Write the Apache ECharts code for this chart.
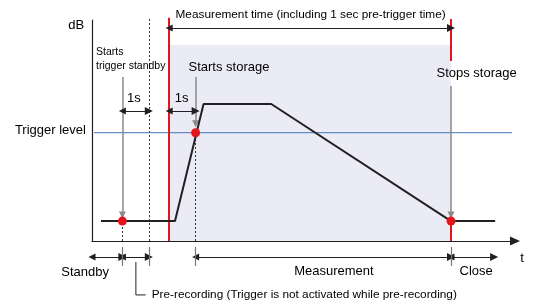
<!DOCTYPE html>
<html lang="en">
<head>
<meta charset="UTF-8">
<title>Measurement timing</title>
<style>
  html, body { margin: 0; padding: 0; background: #fff; }
</style>
</head>
<body>
<div id="main" style="width:535px;height:307px;"></div>
<script src="https://cdn.jsdelivr.net/npm/echarts@6/dist/echarts.min.js"></script>
<script>
// time axis (s) and level axis (dB, arbitrary units)
var xRange = [0, 16];
var yRange = [0, 10];

// sound level curve
var signal = [[0.34, 0.9], [3.14, 0.9], [4.22, 6.2], [6.78, 6.2], [13.58, 0.9], [15.25, 0.9]];
var triggerLevel = [[0.08, 4.9], [15.89, 4.9]];
// events: trigger standby, trigger, stop
var eventPoints = [[1.15, 0.9], [3.92, 4.9], [13.58, 0.9]];
// measurement window (shaded)
var measureArea = [2.92, 13.58, 8.87];

// red markers: start of measurement, stop storage (top part and foot)
var redLines = [
  [[2.92, 0], [2.92, 10.1]],
  [[13.58, 8.14], [13.58, 10.05]],
  [[13.58, 0], [13.58, 0.9]]
];
// grey pointer arrows
var pointers = [
  [[1.15, 7.42], [1.15, 1.18]],
  [[3.92, 7.42], [3.92, 5.3]],
  [[13.58, 7.01], [13.58, 1.18]]
];
// dotted guide lines
var guides = [
  [[1.15, 0], [1.15, 0.9]],
  [[2.15, 0], [2.15, 10.1]],
  [[3.92, 0], [3.92, 4.9]]
];
// double-headed dimension arrows
var spans = [
  [[1.15, 5.88], [2.15, 5.88]],
  [[2.92, 5.88], [3.92, 5.88]],
  [[2.92, 9.64], [13.58, 9.64]],
  [[0, -0.72], [1.15, -0.72]],
  [[1.15, -0.72], [2.15, -0.72]],
  [[3.92, -0.72], [13.58, -0.72]],
  [[13.58, -0.72], [15.21, -0.72]]
];
// ticks below the axis
var ticks = [
  [[1.15, -0.27], [1.15, -1.13]],
  [[2.15, -0.27], [2.15, -1.13]],
  [[3.92, -0.27], [3.92, -1.13]],
  [[13.58, -0.27], [13.58, -1.13]]
];
var bracket = [[[1.66, -0.95], [1.66, -2.44], [2.03, -2.44]]];

// text labels [x, y, text]
var leftText = [
  [3.65, 7.87, 'Starts storage'],
  [13.03, 7.6, 'Stops storage'],
  [16.2, -0.77, 't']
];
var rightText = [
  [-0.3, 9.77, 'dB'],
  [-0.23, 5.02, 'Trigger level']
];
var centerText = [
  [1.58, 6.43, '1s'],
  [3.39, 6.43, '1s'],
  [-0.26, -1.4, 'Standby'],
  [9.15, -1.36, 'Measurement'],
  [14.53, -1.36, 'Close']
];
var smallText = [[0.15, 8.24, 'Starts\ntrigger standby']];
var noteText = [
  [3.16, 10.23, 'Measurement time (including 1 sec pre-trigger time)'],
  [2.26, -2.44, 'Pre-recording (Trigger is not activated while pre-recording)']
];

var ink = '#231f20';
var red = '#e3141c';
var font = 'Liberation Sans, Arial, sans-serif';

function segs(list) {
  return list.map(function (c) { return { coords: c }; });
}
function textSeries(list, align, size) {
  return {
    type: 'scatter',
    clip: false,
    silent: true,
    symbolSize: 0,
    z: 10,
    itemStyle: { opacity: 1 },
    data: list.map(function (t) { return { value: [t[0], t[1]], name: t[2] }; }),
    label: {
      show: true,
      position: 'inside',
      align: align,
      verticalAlign: 'middle',
      color: '#000',
      opacity: 1,
      fontFamily: font,
      fontSize: size,
      lineHeight: size + 3,
      formatter: function (p) { return p.name; }
    }
  };
}
function segSeries(list, color, width, extra) {
  var s = {
    type: 'lines', coordinateSystem: 'cartesian2d', clip: false, silent: true,
    data: segs(list), symbol: 'none',
    lineStyle: { color: color, width: width, opacity: 1 }, z: 4
  };
  for (var k in extra) s[k] = extra[k];
  return s;
}

var option = {
  animation: false,
  grid: { left: 92, top: 20, width: 423, height: 221 },
  xAxis: {
    type: 'value', min: xRange[0], max: xRange[1],
    splitLine: { show: false }, axisTick: { show: false }, axisLabel: { show: false },
    axisLine: { onZero: false, symbol: ['none', 'triangle'], symbolSize: [9, 10],
      lineStyle: { color: ink, width: 1.2 } }
  },
  yAxis: {
    type: 'value', min: yRange[0], max: yRange[1],
    splitLine: { show: false }, axisTick: { show: false }, axisLabel: { show: false },
    axisLine: { onZero: false, lineStyle: { color: ink, width: 1.2 } }
  },
  series: [
    {
      type: 'line', data: [], silent: true,
      markArea: {
        silent: true,
        itemStyle: { color: '#ebebf6', opacity: 1 },
        data: [[{ coord: [measureArea[0], 0] }, { coord: [measureArea[1], measureArea[2]] }]]
      }
    },
    {
      type: 'line', data: triggerLevel, symbol: 'none', silent: true,
      lineStyle: { color: '#3f74b9', width: 1 }, z: 3
    },
    segSeries(guides, '#333', 1, { lineStyle: { color: '#333', width: 1, type: [2, 2], opacity: 1 }, z: 3 }),
    segSeries(redLines, red, 2),
    segSeries(pointers, '#8a8a8a', 1.5, { symbol: ['none', 'triangle'], symbolSize: [8, 7] }),
    segSeries(spans, ink, 1, { symbol: ['triangle', 'triangle'], symbolSize: [7, 8] }),
    segSeries(ticks, '#777', 1.2),
    segSeries(bracket, ink, 1, { polyline: true }),
    {
      type: 'line', data: signal, symbol: 'none', silent: true,
      lineStyle: { color: ink, width: 2 }, z: 5
    },
    {
      type: 'scatter', data: eventPoints, symbolSize: 9, silent: true,
      itemStyle: { color: red, opacity: 1 }, z: 6
    },
    textSeries(leftText, 'left', 13),
    textSeries(rightText, 'right', 13),
    textSeries(centerText, 'center', 13),
    textSeries(smallText, 'left', 10.5),
    textSeries(noteText, 'left', 11.8)
  ]
};

var myChart = echarts.init(document.getElementById('main'));
myChart.setOption(option);
</script>
</body>
</html>
